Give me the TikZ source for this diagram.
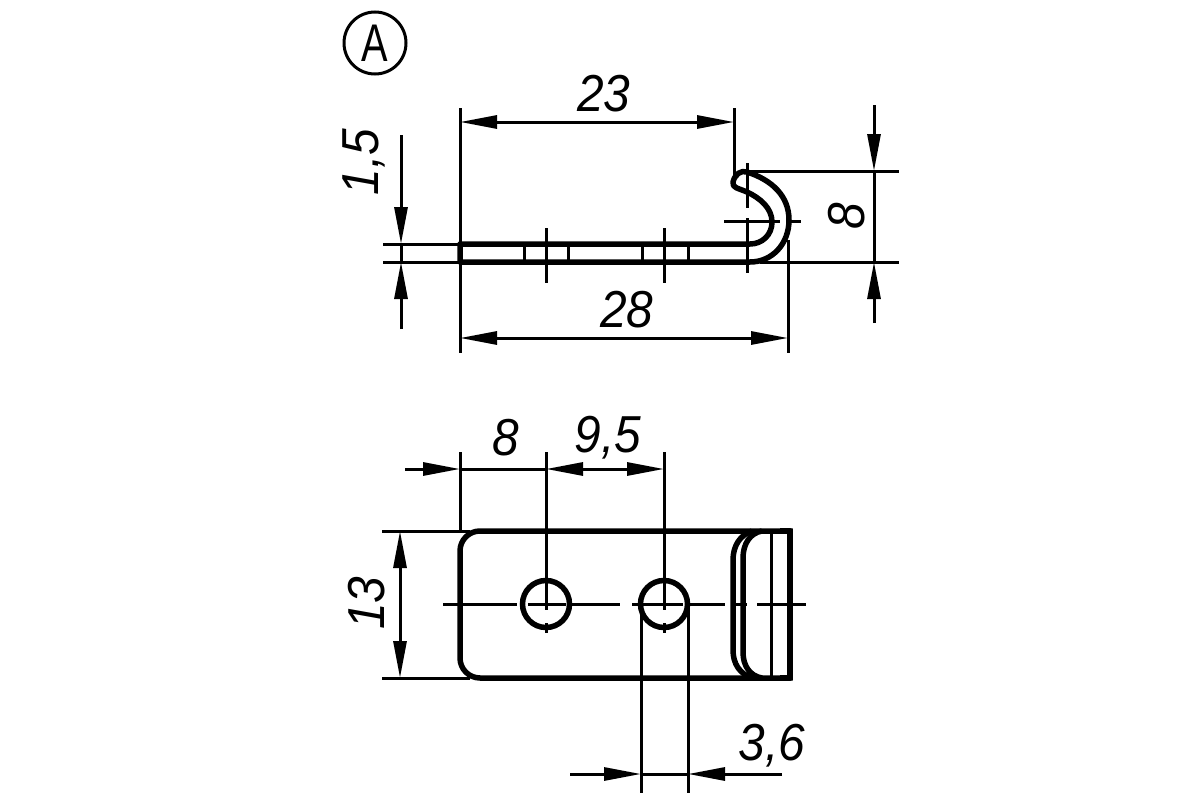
\documentclass[tikz,border=0pt]{standalone}
\usepackage{fontspec}
\setmainfont{Liberation Sans}
\usetikzlibrary{arrows.meta}
\newcommand{\dimlabel}[1]{\scalebox{0.92}[1]{#1}}
\tikzset{
  part/.style={line width=5.5pt,line join=round},
  thin line/.style={line width=3pt},
  dim/.style={line width=3pt,-{Triangle[length=37pt,width=13pt]}},
  dimboth/.style={line width=3pt,{Triangle[length=37pt,width=13pt]}-{Triangle[length=37pt,width=13pt]}},
  dimtext/.style={font=\fontsize{52}{52}\selectfont\itshape,inner sep=0pt},
  holecircle/.style={draw,circle,line width=5.5pt,minimum size=47pt,inner sep=0pt}
}
\begin{document}
\begin{tikzpicture}[x=1pt,y=-1pt]
  \useasboundingbox (0,0) rectangle (1200,800);
  % label A
  \node[draw,circle,line width=3pt,minimum size=62pt,inner sep=0pt,
    font=\fontsize{53}{53}\selectfont] (labelA) at (375,43) {\scalebox{0.75}[1]{A}};
  % side view
  \draw[part] (460,244) -- (750,244)
    .. controls (762,244) and (772,235) .. (772,222)
    .. controls (772,208) and (760,198) .. (747,192)
    .. controls (738,188) and (732,188) .. (733,182)
    .. controls (735,174) and (741,170) .. (747,172)
    .. controls (772,180) and (789,196) .. (789,220)
    .. controls (789,244) and (772,262) .. (750,262)
    -- (460,262) -- cycle;
  \foreach \x in {524,568,642,688}
    \draw[thin line] (\x,244) -- (\x,262);
  \foreach \x in {546,664}
    \draw[thin line] (\x,228) -- (\x,283);
  \draw[thin line] (747,163) -- (747,208) (747,218) -- (747,273);
  \draw[thin line] (724,221) -- (780,221) (790,221) -- (801,221);
  % side view dimensions
  \coordinate (a1) at (460,122);
  \coordinate (a2) at (734,122);
  \coordinate (b1) at (460,338);
  \coordinate (b2) at (788,338);
  \draw[thin line] (460,108) -- (460,353);
  \draw[thin line] (734,108) -- (734,180);
  \draw[thin line] (788,240) -- (788,353);
  \draw[dimboth] (a1) -- (a2);
  \draw[dimboth] (b1) -- (b2);
  \node[dimtext] (d23) at (604,94) {\dimlabel{23}};
  \node[dimtext] (d28) at (627,310) {\dimlabel{28}};
  \coordinate (c1) at (401,244);
  \coordinate (c2) at (401,262);
  \draw[thin line] (383,244) -- (460,244) (383,262) -- (460,262);
  \draw[dim] (401,135) -- (c1);
  \draw[dim] (401,329) -- (c2);
  \draw[thin line] (c1) -- (c2);
  \node[dimtext,rotate=90] (d15) at (364,162) {\dimlabel{1,5}};
  \coordinate (e1) at (874,171);
  \coordinate (e2) at (874,262);
  \draw[thin line] (750,171) -- (899,171) (760,262) -- (899,262);
  \draw[dim] (874,105) -- (e1);
  \draw[dim] (874,323) -- (e2);
  \draw[thin line] (e1) -- (e2);
  \node[dimtext,rotate=90] (d8a) at (847,216) {\dimlabel{8}};
  % top view
  \draw[part,rounded corners=20pt] (460,531) rectangle (810,678);
  \fill[white] (792.8,520) rectangle (820,690);
  \draw[part] (780,531) -- (790,531) -- (790,678) -- (780,678);
  \draw[part] (752,531) .. controls (740,535) and (733,546) .. (733,560)
    -- (733,650) .. controls (733,664) and (740,674) .. (752,678);
  \draw[part] (762,531) .. controls (750,533) and (743,544) .. (743,558)
    -- (743,652) .. controls (743,666) and (750,676) .. (762,678);
  \draw[thin line] (771,531) -- (771,678);
  \node[holecircle] (hole1) at (546,604) {};
  \node[holecircle] (hole2) at (664,604) {};
  \foreach \xa/\xb in {443/517,528/566,572/620,632/683,688/725,735/747,757/806}
    \draw[thin line] (\xa,604) -- (\xb,604);
  \foreach \x in {546,664}
    \draw[thin line] (\x,452) -- (\x,610) (\x,623) -- (\x,633);
  % top view dimensions
  \draw[thin line] (460,452) -- (460,531);
  \coordinate (f1) at (460,469);
  \coordinate (f2) at (546,469);
  \coordinate (f3) at (664,469);
  \draw[dim] (405,469) -- (f1);
  \draw[thin line] (f1) -- (f2);
  \draw[dimboth] (f2) -- (f3);
  \node[dimtext] (d8b) at (506,438) {\dimlabel{8}};
  \node[dimtext] (d95) at (608,438) {\dimlabel{9,5}};
  \draw[thin line] (382,531) -- (470,531) (382,678) -- (470,678);
  \coordinate (g1) at (400,531);
  \coordinate (g2) at (400,678);
  \draw[dimboth] (g1) -- (g2);
  \node[dimtext,rotate=90] (d13) at (367,603) {\dimlabel{13}};
  \draw[thin line] (641,610) -- (641,793) (688,604) -- (688,793);
  \coordinate (h1) at (641,774);
  \coordinate (h2) at (688,774);
  \draw[dim] (570,774) -- (h1);
  \draw[thin line] (h1) -- (h2);
  \draw[dim] (782,774) -- (h2);
  \node[dimtext] (d36) at (772,746) {\dimlabel{3,6}};
\end{tikzpicture}
\end{document}
